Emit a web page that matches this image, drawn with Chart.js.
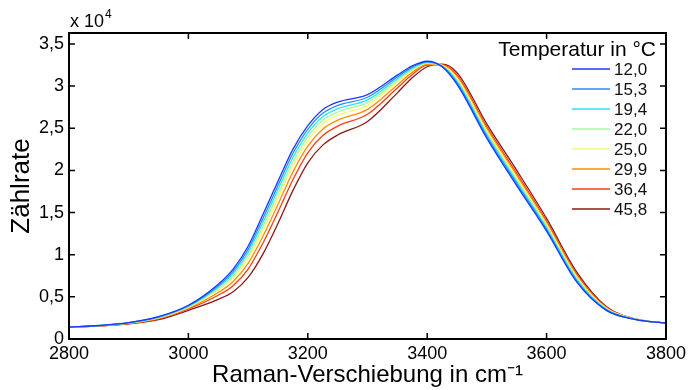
<!DOCTYPE html>
<html>
<head>
<meta charset="utf-8">
<script src="https://cdn.jsdelivr.net/npm/chart.js@4/dist/chart.umd.min.js"></script>
<style>
  html, body { margin: 0; padding: 0; background: #fff; }
  #wrap { width: 690px; height: 390px; }
</style>
</head>
<body>
<div id="wrap"><canvas id="canvas" width="690" height="390"></canvas></div>
<script>
// Raman-Verschiebung in cm^-1
var wellenzahl = [2800, 2850, 2900, 2950, 3000, 3050, 3075, 3100, 3125, 3150, 3175, 3200, 3225, 3250,
                  3300, 3350, 3375, 3400, 3425, 3450, 3500, 3550, 3600, 3650, 3700, 3750, 3800];

var temperaturen = ["12,0", "15,3", "19,4", "22,0", "25,0", "29,9", "36,4", "45,8"];

var farben = ["rgb(30,55,245)", "rgb(40,140,255)", "rgb(40,230,250)", "rgb(165,250,165)",
              "rgb(250,250,110)", "rgb(255,140,0)", "rgb(255,60,20)", "rgb(140,25,20)"];

var t12_0 = [1400, 1600, 1950, 2650, 4000, 6500, 8300, 11000, 14800, 18700, 22500, 25300, 27200, 28100,
             29000, 31300, 32400, 32950, 32300, 30200, 23800, 18200, 12800, 6800, 3400, 2300, 1900];
var t15_3 = [1400, 1595, 1935, 2615, 3940, 6320, 8030, 10630, 14330, 18200, 22000, 24860, 26780, 27710,
             28680, 31090, 32260, 32885, 32340, 30380, 24020, 18430, 12990, 6960, 3460, 2310, 1900];
var t19_4 = [1400, 1590, 1920, 2580, 3880, 6140, 7760, 10260, 13860, 17700, 21500, 24420, 26360, 27320,
             28360, 30880, 32120, 32820, 32380, 30560, 24240, 18670, 13190, 7110, 3520, 2310, 1900];
var t22_0 = [1400, 1585, 1905, 2545, 3820, 5960, 7490, 9890, 13390, 17200, 21000, 23980, 25940, 26930,
             28040, 30670, 31980, 32755, 32420, 30750, 24460, 18900, 13390, 7270, 3580, 2320, 1900];
var t25_0 = [1400, 1580, 1890, 2510, 3760, 5780, 7220, 9520, 12920, 16700, 20500, 23540, 25520, 26540,
             27720, 30460, 31840, 32690, 32460, 30930, 24680, 19140, 13580, 7420, 3630, 2330, 1900];
var t29_9 = [1400, 1573, 1868, 2458, 3670, 5510, 6820, 8970, 12220, 15950, 19800, 22880, 24890, 25955,
             27240, 30145, 31630, 32590, 32500, 31120, 24920, 19390, 13790, 7590, 3700, 2330, 1900];
var t36_4 = [1400, 1564, 1840, 2395, 3562, 5190, 6330, 8300, 11380, 15050, 18900, 22090, 24130, 25250,
             26660, 29770, 31380, 32480, 32540, 31320, 25160, 19640, 14000, 7760, 3760, 2340, 1900];
var t45_8 = [1400, 1550, 1800, 2300, 3400, 4700, 5600, 7300, 10100, 13700, 17600, 20900, 23000, 24200,
             25800, 29200, 31000, 32300, 32600, 31600, 25500, 20000, 14300, 8000, 3850, 2350, 1900];

var reihen = [t12_0, t15_3, t19_4, t22_0, t25_0, t29_9, t36_4, t45_8];

var xTicks = [2800, 3000, 3200, 3400, 3600, 3800];
var yTicks = [0, 5000, 10000, 15000, 20000, 25000, 30000, 35000];

var schrift = "'Liberation Sans', Arial, sans-serif";

function punkte(werte) {
    return werte.map(function (w, i) { return { x: wellenzahl[i], y: w }; });
}

var datasets = reihen.map(function (werte, i) {
    return {
        label: temperaturen[i],
        data: punkte(werte),
        borderColor: farben[i],
        backgroundColor: farben[i],
        borderWidth: 1.3,
        pointRadius: 0,
        fill: false,
        cubicInterpolationMode: 'monotone'
    };
});

// Rahmen, Ticks nach innen, Exponent und Legende im Plot
var matlabStil = {
    id: 'matlabStil',
    afterDraw: function (chart) {
        var ctx = chart.ctx;
        var a = chart.chartArea;
        var xs = chart.scales.x, ys = chart.scales.y;
        ctx.save();
        ctx.strokeStyle = '#000';
        ctx.lineWidth = 2;
        ctx.strokeRect(a.left, a.top, a.right - a.left, a.bottom - a.top);
        ctx.lineWidth = 1.5;
        ctx.beginPath();
        xTicks.forEach(function (t) {
            var px = xs.getPixelForValue(t);
            ctx.moveTo(px, a.bottom); ctx.lineTo(px, a.bottom - 6);
            ctx.moveTo(px, a.top); ctx.lineTo(px, a.top + 6);
        });
        yTicks.forEach(function (t) {
            var py = ys.getPixelForValue(t);
            ctx.moveTo(a.left, py); ctx.lineTo(a.left + 6, py);
            ctx.moveTo(a.right, py); ctx.lineTo(a.right - 6, py);
        });
        ctx.stroke();

        // x 10^4
        ctx.fillStyle = '#000';
        ctx.textBaseline = 'alphabetic';
        ctx.textAlign = 'left';
        ctx.font = '18px ' + schrift;
        ctx.fillText('x 10', a.left + 1, 27);
        var w = ctx.measureText('x 10').width;
        ctx.font = '12px ' + schrift;
        ctx.fillText('4', a.left + 1 + w + 1, 18);

        // Legende
        ctx.font = '21px ' + schrift;
        ctx.textAlign = 'right';
        ctx.fillText('Temperatur in °C', 656, 56);
        ctx.font = '17px ' + schrift;
        ctx.textAlign = 'left';
        ctx.textBaseline = 'middle';
        chart.data.datasets.forEach(function (ds, i) {
            var y = 69 + i * 20;
            ctx.strokeStyle = ds.borderColor;
            ctx.lineWidth = 1.5;
            ctx.beginPath();
            ctx.moveTo(572, y); ctx.lineTo(610, y);
            ctx.stroke();
            ctx.fillStyle = '#111';
            ctx.fillText(ds.label, 614, y + 1);
        });
        ctx.restore();
    }
};

new Chart(document.getElementById('canvas'), {
    type: 'line',
    data: { datasets: datasets },
    options: {
        responsive: false,
        animation: false,
        layout: { padding: { top: 33, right: 17, left: 0, bottom: 0 } },
        plugins: { legend: { display: false }, tooltip: { enabled: false } },
        scales: {
            x: {
                type: 'linear',
                min: 2800,
                max: 3800,
                grid: { display: false, drawTicks: false },
                border: { display: false },
                afterBuildTicks: function (s) { s.ticks = xTicks.map(function (v) { return { value: v }; }); },
                afterFit: function (s) { s.height = 51; },
                ticks: {
                    padding: 4,
                    color: '#000',
                    font: { family: schrift, size: 18 },
                    maxRotation: 0,
                    callback: function (v) { return String(v); }
                },
                title: {
                    display: true,
                    text: 'Raman-Verschiebung in cm⁻¹',
                    color: '#000',
                    font: { family: schrift, size: 24 },
                    padding: { top: 0, bottom: 0 }
                }
            },
            y: {
                min: 0,
                max: 36300,
                grid: { display: false, drawTicks: false },
                border: { display: false },
                afterBuildTicks: function (s) { s.ticks = yTicks.map(function (v) { return { value: v }; }); },
                afterFit: function (s) { s.width = 69; },
                ticks: {
                    padding: 5,
                    color: '#000',
                    font: { family: schrift, size: 18 },
                    callback: function (v) { return String(v / 10000).replace('.', ','); }
                },
                title: {
                    display: true,
                    text: 'Zählrate',
                    color: '#000',
                    font: { family: schrift, size: 26 },
                    padding: { top: 6, bottom: 0 }
                }
            }
        }
    },
    plugins: [matlabStil]
});
</script>
</body>
</html>
